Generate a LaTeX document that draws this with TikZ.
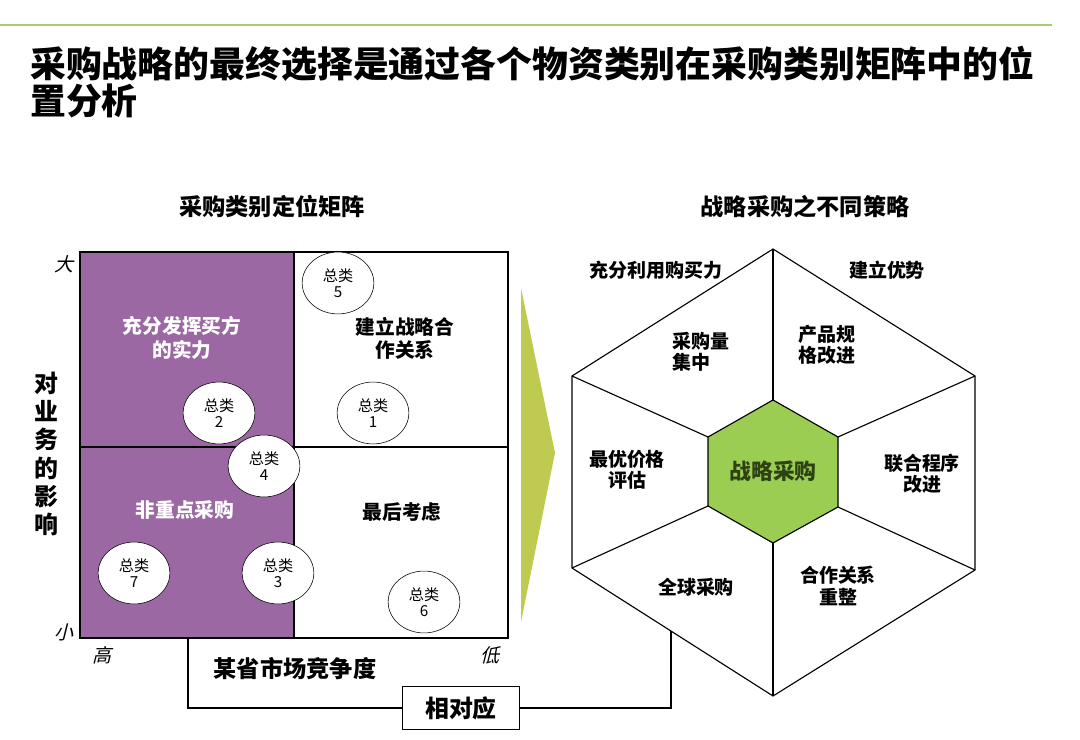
\documentclass[tikz,border=0pt]{standalone}
\usepackage{fontspec}
\usepackage{xcolor}
\usepackage{tikz}
\usetikzlibrary{shapes,positioning,calc}
\newfontfamily\cjk{Noto Sans CJK SC}
\newfontfamily\cjkit{Noto Sans CJK SC}[FakeSlant=0.25]
\definecolor{lineGreen}{RGB}{165,205,115}
\definecolor{quadPurple}{RGB}{155,104,163}
\definecolor{hexGreen}{RGB}{155,205,82}
\definecolor{arrowGreen}{RGB}{190,202,80}
\definecolor{hexText}{RGB}{45,65,20}

\begin{document}
\begin{tikzpicture}[x=0.025cm,y=-0.025cm,
    title/.style={font=\cjk\bfseries\fontsize{25.5pt}{26.5pt}\selectfont,align=left,inner sep=0pt},
    head/.style={font=\cjk\bfseries\fontsize{16.5pt}{20pt}\selectfont,inner sep=0pt},
    quad/.style={font=\cjk\bfseries\fontsize{14pt}{16.5pt}\selectfont,align=center,inner sep=0pt},
    tick/.style={font=\cjkit\fontsize{13.5pt}{16pt}\selectfont,inner sep=0pt},
    cat/.style={ellipse,draw,fill=white,minimum width=51pt,minimum height=44pt,inner sep=0pt,
        align=center,font=\cjk\fontsize{10.8pt}{11.5pt}\selectfont},
    hexlbl/.style={font=\cjk\bfseries\fontsize{13.5pt}{15pt}\selectfont,align=center,inner sep=0pt}]
    \useasboundingbox (0,0) rectangle (1080,740);

    % Top rule and title
    \draw[lineGreen,line width=2pt] (0,25) -- (1052,25);
    \node[title,anchor=north west] (ttl) at (30,46)
        {采购战略的最终选择是通过各个物资类别在采购类别矩阵中的位\\置分析};

    % Headings
    \node[head] (hleft) at (272,207) {采购类别定位矩阵};
    \node[head] (hright) at (805,207) {战略采购之不同策略};

    % Matrix
    \coordinate (mtl) at (80,252);
    \coordinate (mbr) at (508,638);
    \fill[quadPurple] (mtl) rectangle (294,638);
    \draw[line width=1pt] (mtl) rectangle (mbr);
    \draw[line width=1pt] (294,252) -- (294,638); % vertical divider
    \draw[line width=1pt] (80,447) -- (508,447); % horizontal divider

    \node[quad,text=white] (q1) at (182,338) {充分发挥买方\\的实力};
    \node[quad] (q2) at (405,338) {建立战略合\\作关系};
    \node[quad,text=white] (q3) at (185,510) {非重点采购};
    \node[quad] (q4) at (402,512) {最后考虑};

    \node[cat] (c5) at (338,283) {总类\\5};
    \node[cat] (c2) at (219,413) {总类\\2};
    \node[cat] (c1) at (373,413) {总类\\1};
    \node[cat] (c4) at (264,466) {总类\\4};
    \node[cat] (c7) at (134,573) {总类\\7};
    \node[cat] (c3) at (278,573) {总类\\3};
    \node[cat] (c6) at (424,602) {总类\\6};

    % Axis labels
    \node[tick] (big) at (64,264) {大};
    \node[tick] (small) at (64,632) {小};
    \node[tick] (high) at (102,655) {高};
    \node[tick] (low) at (490,655) {低};
    \node[font=\cjk\bfseries\fontsize{17pt}{20pt}\selectfont,align=center,inner sep=0pt]
        (yaxis) at (46,454) {对\\业\\务\\的\\影\\响};
    \node[head] (xaxis) at (295,669) {某省市场竞争度};

    % Arrow between the two parts
    \fill[arrowGreen] (521,288) -- (555,453) -- (521,622) -- cycle;

    % Outer hexagon
    \coordinate (o1) at (773,249);
    \coordinate (o2) at (975,376);
    \coordinate (o3) at (975,570);
    \coordinate (o4) at (773,696);
    \coordinate (o5) at (572,568);
    \coordinate (o6) at (572,376);
    % Inner hexagon
    \coordinate (i1) at (773,400);
    \coordinate (i2) at (838,437);
    \coordinate (i3) at (838,507);
    \coordinate (i4) at (773,543);
    \coordinate (i5) at (708,506);
    \coordinate (i6) at (708,437);
    \draw[line width=0.8pt] (o1) -- (o2) -- (o3) -- (o4) -- (o5) -- (o6) -- cycle;
    \foreach \k in {1,...,6}
        \draw[line width=0.8pt] (i\k) -- (o\k); % spokes
    \draw[line width=0.8pt,fill=hexGreen] (i1) -- (i2) -- (i3) -- (i4) -- (i5) -- (i6) -- cycle;
    \node[font=\cjk\bfseries\fontsize{15.5pt}{18pt}\selectfont,text=hexText,inner sep=0pt]
        (core) at (773,471) {战略采购};

    \node[hexlbl] (s1) at (656,270) {充分利用购买力};
    \node[hexlbl] (s2) at (887,270) {建立优势};
    \node[hexlbl,align=left,anchor=west] (s3) at (672,352) {采购量\\集中};
    \node[hexlbl,align=left,anchor=west] (s4) at (798,345) {产品规\\格改进};
    \node[hexlbl] (s5) at (627,470) {最优价格\\评估};
    \node[hexlbl] (s6) at (922,474) {联合程序\\改进};
    \node[hexlbl] (s7) at (696,587) {全球采购};
    \node[hexlbl] (s8) at (838,586) {合作关系\\重整};

    % Correspondence link
    \node[draw,line width=1pt,minimum width=83.5pt,minimum height=31pt,
        font=\cjk\bfseries\fontsize{17pt}{20pt}\selectfont] (corr) at (461,708) {相对应};
    \coordinate (mlink) at (188,638);
    \coordinate (hlink) at ($(o5)!0.4925!(o4)$);
    \draw[line width=1pt] (mlink) |- (corr.west);
    \draw[line width=1pt] (corr.east) -| (hlink);
\end{tikzpicture}
\end{document}
